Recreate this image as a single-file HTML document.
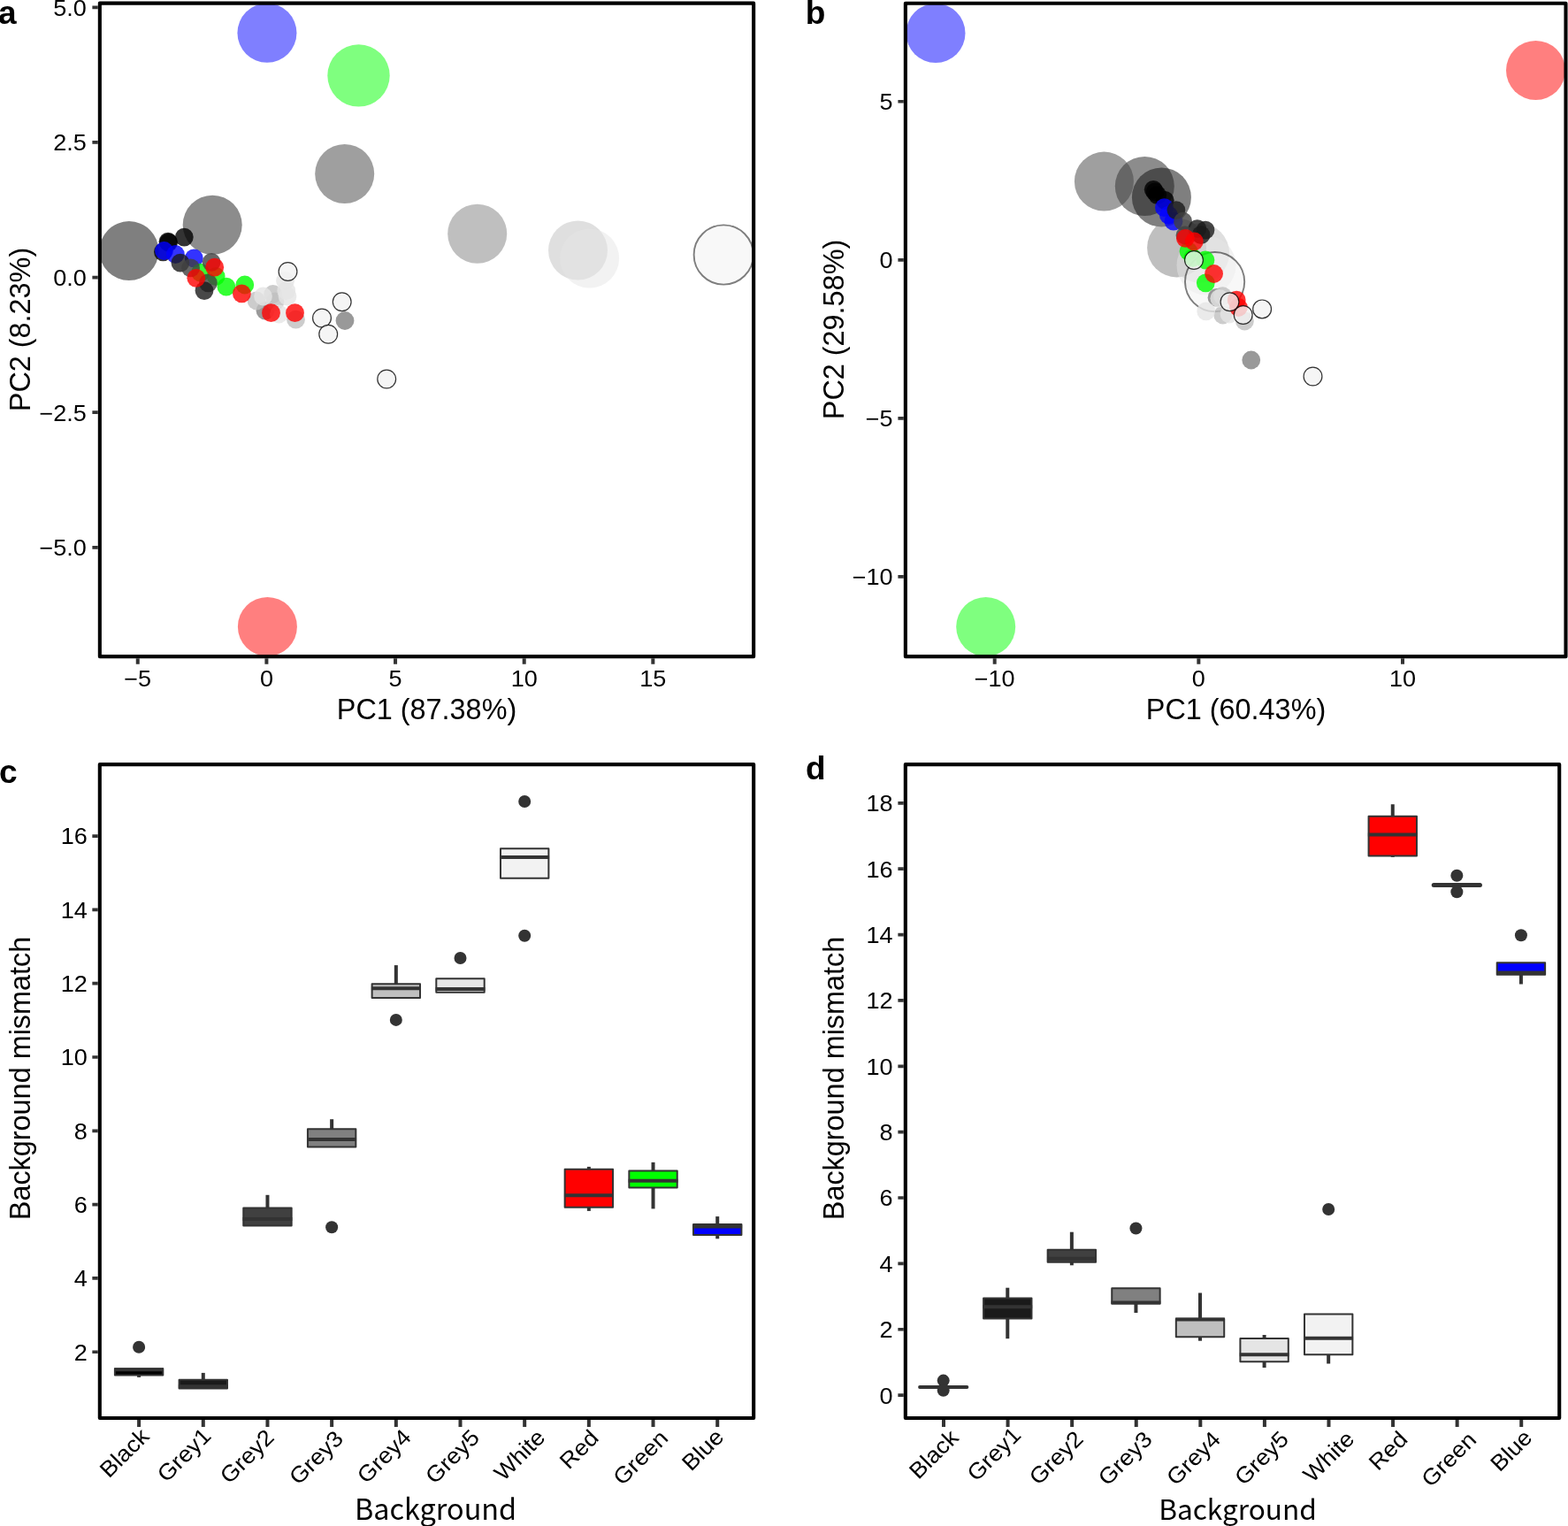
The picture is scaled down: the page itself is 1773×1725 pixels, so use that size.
<!DOCTYPE html>
<html lang="en">
<head>
<meta charset="utf-8">
<title>Figure</title>
<style>html,body{margin:0;padding:0;background:#fff}svg{display:block}text{white-space:pre}</style>
</head>
<body>
<svg width="1773" height="1725" viewBox="0 0 1773 1725" font-family='"Liberation Sans", Arial, Helvetica, sans-serif'>
<rect width="1773" height="1725" fill="#fff"/>
<circle cx="145.9" cy="283.6" r="33.5" fill="#000000" fill-opacity="0.5"/>
<circle cx="240.2" cy="254.2" r="33.5" fill="#1a1a1a" fill-opacity="0.5"/>
<circle cx="389.7" cy="196.5" r="33.5" fill="#404040" fill-opacity="0.5"/>
<circle cx="539.7" cy="264.2" r="33.5" fill="#808080" fill-opacity="0.5"/>
<circle cx="653.5" cy="283.0" r="33.5" fill="#bfbfbf" fill-opacity="0.5"/>
<circle cx="666.6" cy="292.0" r="33.5" fill="#e5e5e5" fill-opacity="0.5"/>
<circle cx="818.2" cy="288.0" r="33.6" fill="#f2f2f2" fill-opacity="0.5" stroke="#000" stroke-opacity="0.5" stroke-width="1.9"/>
<circle cx="302.4" cy="708.4" r="33.5" fill="#ff0000" fill-opacity="0.5"/>
<circle cx="405.5" cy="85.4" r="35.2" fill="#00ff00" fill-opacity="0.5"/>
<circle cx="301.95" cy="37.3" r="33.5" fill="#0000ff" fill-opacity="0.5"/>
<circle cx="190.0" cy="273.2" r="10.4" fill="#000000" fill-opacity="0.8"/>
<circle cx="190.6" cy="274.2" r="10.4" fill="#000000" fill-opacity="0.8"/>
<circle cx="208.3" cy="268.1" r="10.4" fill="#000000" fill-opacity="0.8"/>
<circle cx="184.4" cy="284.8" r="10.4" fill="#000000" fill-opacity="0.8"/>
<circle cx="185.5" cy="283.5" r="10.4" fill="#0000ff" fill-opacity="0.8"/>
<circle cx="198.4" cy="287.5" r="10.4" fill="#0000ff" fill-opacity="0.8"/>
<circle cx="219.3" cy="291.9" r="10.4" fill="#0000ff" fill-opacity="0.8"/>
<circle cx="226.6" cy="308.1" r="10.4" fill="#00ff00" fill-opacity="0.8"/>
<circle cx="244.2" cy="312.5" r="10.4" fill="#00ff00" fill-opacity="0.8"/>
<circle cx="255.9" cy="324.2" r="10.4" fill="#00ff00" fill-opacity="0.8"/>
<circle cx="276.8" cy="322.0" r="10.4" fill="#00ff00" fill-opacity="0.8"/>
<circle cx="203.9" cy="297.1" r="10.4" fill="#1a1a1a" fill-opacity="0.8"/>
<circle cx="215.6" cy="302.9" r="10.4" fill="#404040" fill-opacity="0.8"/>
<circle cx="239.1" cy="296.3" r="10.4" fill="#404040" fill-opacity="0.8"/>
<circle cx="235.4" cy="319.8" r="10.4" fill="#404040" fill-opacity="0.8"/>
<circle cx="231.0" cy="328.6" r="10.4" fill="#1a1a1a" fill-opacity="0.8"/>
<circle cx="300.0" cy="351.2" r="10.4" fill="#808080" fill-opacity="0.8"/>
<circle cx="390.0" cy="362.5" r="10.4" fill="#808080" fill-opacity="0.8"/>
<circle cx="290.0" cy="340.0" r="10.4" fill="#bfbfbf" fill-opacity="0.8"/>
<circle cx="308.7" cy="332.5" r="10.4" fill="#bfbfbf" fill-opacity="0.8"/>
<circle cx="334.5" cy="361.2" r="10.4" fill="#bfbfbf" fill-opacity="0.8"/>
<circle cx="311.0" cy="341.0" r="10.4" fill="#bfbfbf" fill-opacity="0.8"/>
<circle cx="297.5" cy="335.0" r="10.4" fill="#e5e5e5" fill-opacity="0.8"/>
<circle cx="322.5" cy="317.5" r="10.4" fill="#e5e5e5" fill-opacity="0.8"/>
<circle cx="323.7" cy="328.7" r="10.4" fill="#e5e5e5" fill-opacity="0.8"/>
<circle cx="325.0" cy="335.0" r="10.4" fill="#e5e5e5" fill-opacity="0.8"/>
<circle cx="315.5" cy="355.0" r="10.4" fill="#e5e5e5" fill-opacity="0.8"/>
<circle cx="242.7" cy="302.2" r="10.4" fill="#ff0000" fill-opacity="0.8"/>
<circle cx="221.8" cy="314.3" r="10.4" fill="#ff0000" fill-opacity="0.8"/>
<circle cx="273.4" cy="331.9" r="10.4" fill="#ff0000" fill-opacity="0.8"/>
<circle cx="306.5" cy="353.7" r="10.4" fill="#ff0000" fill-opacity="0.8"/>
<circle cx="333.5" cy="353.7" r="10.4" fill="#ff0000" fill-opacity="0.8"/>
<circle cx="325.5" cy="307.0" r="10.4" fill="#f2f2f2" fill-opacity="0.8" stroke="#000" stroke-opacity="0.8" stroke-width="1.2"/>
<circle cx="386.7" cy="341.2" r="10.4" fill="#f2f2f2" fill-opacity="0.8" stroke="#000" stroke-opacity="0.8" stroke-width="1.2"/>
<circle cx="364.0" cy="359.5" r="10.4" fill="#f2f2f2" fill-opacity="0.8" stroke="#000" stroke-opacity="0.8" stroke-width="1.2"/>
<circle cx="371.2" cy="377.7" r="10.4" fill="#f2f2f2" fill-opacity="0.8" stroke="#000" stroke-opacity="0.8" stroke-width="1.2"/>
<circle cx="437.2" cy="428.5" r="10.4" fill="#f2f2f2" fill-opacity="0.8" stroke="#000" stroke-opacity="0.8" stroke-width="1.2"/>
<rect x="112.84" y="3.65" width="739.31" height="738.52" fill="none" stroke="#000" stroke-width="4.1" stroke-linejoin="round"/>
<path d="M104.39 8.30H110.79M104.39 160.94H110.79M104.39 313.58H110.79M104.39 466.22H110.79M104.39 618.86H110.79" stroke="#333" stroke-width="3.7" fill="none"/>
<text transform="translate(97.90 17.70) scale(1.065 1)" font-size="25.4" text-anchor="end">5.0</text>
<text transform="translate(97.90 170.34) scale(1.065 1)" font-size="25.4" text-anchor="end">2.5</text>
<text transform="translate(97.90 322.98) scale(1.065 1)" font-size="25.4" text-anchor="end">0.0</text>
<text transform="translate(97.90 475.62) scale(1.065 1)" font-size="25.4" text-anchor="end">−2.5</text>
<text transform="translate(97.90 628.26) scale(1.065 1)" font-size="25.4" text-anchor="end">−5.0</text>
<path d="M155.75 744.22V750.72M301.40 744.22V750.72M447.05 744.22V750.72M592.70 744.22V750.72M738.35 744.22V750.72" stroke="#333" stroke-width="4.0" fill="none"/>
<text transform="translate(155.75 775.90) scale(1.065 1)" font-size="25.4" text-anchor="middle">−5</text>
<text transform="translate(301.40 775.90) scale(1.065 1)" font-size="25.4" text-anchor="middle">0</text>
<text transform="translate(447.05 775.90) scale(1.065 1)" font-size="25.4" text-anchor="middle">5</text>
<text transform="translate(592.70 775.90) scale(1.065 1)" font-size="25.4" text-anchor="middle">10</text>
<text transform="translate(738.35 775.90) scale(1.065 1)" font-size="25.4" text-anchor="middle">15</text>
<text transform="translate(482.50 813.20)" font-size="32.4" text-anchor="middle">PC1 (87.38%)</text>
<text transform="translate(34.00 372.50) rotate(-90)" font-size="32.4" text-anchor="middle">PC2 (8.23%)</text>
<text transform="translate(-2.00 26.90)" font-size="37" text-anchor="start" font-weight="bold">a</text>
<circle cx="1313.4" cy="223.0" r="33.5" fill="#000000" fill-opacity="0.5"/>
<circle cx="1294.3" cy="210.5" r="33.5" fill="#1a1a1a" fill-opacity="0.5"/>
<circle cx="1248.4" cy="205.1" r="33.5" fill="#404040" fill-opacity="0.5"/>
<circle cx="1330.6" cy="279.9" r="33.5" fill="#808080" fill-opacity="0.5"/>
<circle cx="1356.6" cy="286.0" r="33.5" fill="#bfbfbf" fill-opacity="0.5"/>
<circle cx="1364.0" cy="300.0" r="33.5" fill="#e5e5e5" fill-opacity="0.5"/>
<circle cx="1373.6" cy="318.6" r="33.6" fill="#f2f2f2" fill-opacity="0.5" stroke="#000" stroke-opacity="0.5" stroke-width="1.9"/>
<circle cx="1736.5" cy="79.5" r="33.5" fill="#ff0000" fill-opacity="0.5"/>
<circle cx="1114.7" cy="708.5" r="33.5" fill="#00ff00" fill-opacity="0.5"/>
<circle cx="1058.0" cy="37.5" r="33.5" fill="#0000ff" fill-opacity="0.5"/>
<circle cx="1304.2" cy="214.3" r="10.4" fill="#000000" fill-opacity="0.8"/>
<circle cx="1308.7" cy="220.6" r="10.4" fill="#000000" fill-opacity="0.8"/>
<circle cx="1317.2" cy="226.3" r="10.4" fill="#000000" fill-opacity="0.8"/>
<circle cx="1306.0" cy="217.0" r="10.4" fill="#000000" fill-opacity="0.8"/>
<circle cx="1316.5" cy="234.7" r="10.4" fill="#0000ff" fill-opacity="0.8"/>
<circle cx="1321.4" cy="243.2" r="10.4" fill="#0000ff" fill-opacity="0.8"/>
<circle cx="1327.0" cy="250.2" r="10.4" fill="#0000ff" fill-opacity="0.8"/>
<circle cx="1344.0" cy="284.1" r="10.4" fill="#00ff00" fill-opacity="0.8"/>
<circle cx="1348.8" cy="291.5" r="10.4" fill="#00ff00" fill-opacity="0.8"/>
<circle cx="1363.0" cy="294.0" r="10.4" fill="#00ff00" fill-opacity="0.8"/>
<circle cx="1363.3" cy="319.8" r="10.4" fill="#00ff00" fill-opacity="0.8"/>
<circle cx="1329.9" cy="237.6" r="10.4" fill="#1a1a1a" fill-opacity="0.8"/>
<circle cx="1337.6" cy="250.2" r="10.4" fill="#404040" fill-opacity="0.8"/>
<circle cx="1353.8" cy="258.7" r="10.4" fill="#1a1a1a" fill-opacity="0.8"/>
<circle cx="1363.0" cy="260.1" r="10.4" fill="#1a1a1a" fill-opacity="0.8"/>
<circle cx="1358.0" cy="265.7" r="10.4" fill="#1a1a1a" fill-opacity="0.8"/>
<circle cx="1340.0" cy="266.0" r="10.4" fill="#404040" fill-opacity="0.8"/>
<circle cx="1414.75" cy="407.0" r="10.4" fill="#808080" fill-opacity="0.8"/>
<circle cx="1376.0" cy="336.4" r="10.4" fill="#808080" fill-opacity="0.8"/>
<circle cx="1382.4" cy="334.6" r="10.4" fill="#bfbfbf" fill-opacity="0.8"/>
<circle cx="1382.7" cy="356.0" r="10.4" fill="#bfbfbf" fill-opacity="0.8"/>
<circle cx="1407.4" cy="363.0" r="10.4" fill="#bfbfbf" fill-opacity="0.8"/>
<circle cx="1363.7" cy="351.8" r="10.4" fill="#e5e5e5" fill-opacity="0.8"/>
<circle cx="1378.8" cy="337.3" r="10.4" fill="#e5e5e5" fill-opacity="0.8"/>
<circle cx="1390.0" cy="355.0" r="10.4" fill="#e5e5e5" fill-opacity="0.8"/>
<circle cx="1340.4" cy="269.3" r="10.4" fill="#ff0000" fill-opacity="0.8"/>
<circle cx="1350.3" cy="272.8" r="10.4" fill="#ff0000" fill-opacity="0.8"/>
<circle cx="1372.6" cy="309.5" r="10.4" fill="#ff0000" fill-opacity="0.8"/>
<circle cx="1398.2" cy="339.1" r="10.4" fill="#ff0000" fill-opacity="0.8"/>
<circle cx="1400.4" cy="347.5" r="10.4" fill="#ff0000" fill-opacity="0.8"/>
<circle cx="1350.0" cy="294.0" r="10.4" fill="#f2f2f2" fill-opacity="0.8" stroke="#000" stroke-opacity="0.8" stroke-width="1.2"/>
<circle cx="1390.5" cy="341.2" r="10.4" fill="#f2f2f2" fill-opacity="0.8" stroke="#000" stroke-opacity="0.8" stroke-width="1.2"/>
<circle cx="1405.7" cy="356.0" r="10.4" fill="#f2f2f2" fill-opacity="0.8" stroke="#000" stroke-opacity="0.8" stroke-width="1.2"/>
<circle cx="1427.1" cy="349.4" r="10.4" fill="#f2f2f2" fill-opacity="0.8" stroke="#000" stroke-opacity="0.8" stroke-width="1.2"/>
<circle cx="1484.5" cy="425.5" r="10.4" fill="#f2f2f2" fill-opacity="0.8" stroke="#000" stroke-opacity="0.8" stroke-width="1.2"/>
<rect x="1023.86" y="3.69" width="746.64" height="738.48" fill="none" stroke="#000" stroke-width="4.1" stroke-linejoin="round"/>
<path d="M1015.41 114.75H1021.81M1015.41 293.82H1021.81M1015.41 472.89H1021.81M1015.41 651.96H1021.81" stroke="#333" stroke-width="3.7" fill="none"/>
<text transform="translate(1009.60 124.15) scale(1.065 1)" font-size="25.4" text-anchor="end">5</text>
<text transform="translate(1009.60 303.22) scale(1.065 1)" font-size="25.4" text-anchor="end">0</text>
<text transform="translate(1009.60 482.29) scale(1.065 1)" font-size="25.4" text-anchor="end">−5</text>
<text transform="translate(1009.60 661.36) scale(1.065 1)" font-size="25.4" text-anchor="end">−10</text>
<path d="M1124.70 744.22V750.72M1355.35 744.22V750.72M1586.00 744.22V750.72" stroke="#333" stroke-width="4.0" fill="none"/>
<text transform="translate(1124.70 775.90) scale(1.065 1)" font-size="25.4" text-anchor="middle">−10</text>
<text transform="translate(1355.35 775.90) scale(1.065 1)" font-size="25.4" text-anchor="middle">0</text>
<text transform="translate(1586.00 775.90) scale(1.065 1)" font-size="25.4" text-anchor="middle">10</text>
<text transform="translate(1397.50 813.20)" font-size="32.4" text-anchor="middle">PC1 (60.43%)</text>
<text transform="translate(954.00 372.50) rotate(-90)" font-size="32.4" text-anchor="middle">PC2 (29.58%)</text>
<text transform="translate(910.70 27.00)" font-size="37" text-anchor="start" font-weight="bold">b</text>
<path d="M157.10 1554.50V1556.90" stroke="#333" stroke-width="4.0" fill="none"/>
<rect x="129.90" y="1547.30" width="54.40" height="7.20" fill="#000000" stroke="#333" stroke-width="2.0" stroke-linejoin="round"/>
<path d="M129.20 1548.30H185.00" stroke="#333" stroke-width="4.0" fill="none"/>
<circle cx="157.10" cy="1522.80" r="7.0" fill="#333"/>
<path d="M229.78 1551.90V1559.70" stroke="#333" stroke-width="4.0" fill="none"/>
<rect x="202.58" y="1559.70" width="54.40" height="9.70" fill="#1a1a1a" stroke="#333" stroke-width="2.0" stroke-linejoin="round"/>
<path d="M201.88 1567.20H257.68" stroke="#333" stroke-width="4.0" fill="none"/>
<path d="M302.46 1350.80V1365.40" stroke="#333" stroke-width="4.0" fill="none"/>
<rect x="275.26" y="1365.40" width="54.40" height="20.10" fill="#404040" stroke="#333" stroke-width="2.0" stroke-linejoin="round"/>
<path d="M274.56 1378.00H330.36" stroke="#333" stroke-width="4.0" fill="none"/>
<path d="M375.14 1265.20V1276.20" stroke="#333" stroke-width="4.0" fill="none"/>
<rect x="347.94" y="1276.20" width="54.40" height="20.40" fill="#808080" stroke="#333" stroke-width="2.0" stroke-linejoin="round"/>
<path d="M347.24 1288.00H403.04" stroke="#333" stroke-width="4.0" fill="none"/>
<circle cx="375.14" cy="1387.20" r="7.0" fill="#333"/>
<path d="M447.82 1091.10V1112.20" stroke="#333" stroke-width="4.0" fill="none"/>
<rect x="420.62" y="1112.20" width="54.40" height="15.70" fill="#bfbfbf" stroke="#333" stroke-width="2.0" stroke-linejoin="round"/>
<path d="M419.92 1117.30H475.72" stroke="#333" stroke-width="4.0" fill="none"/>
<circle cx="447.82" cy="1152.90" r="7.0" fill="#333"/>
<rect x="493.30" y="1106.30" width="54.40" height="15.40" fill="#e5e5e5" stroke="#333" stroke-width="2.0" stroke-linejoin="round"/>
<path d="M492.60 1117.90H548.40" stroke="#333" stroke-width="4.0" fill="none"/>
<circle cx="520.50" cy="1083.00" r="7.0" fill="#333"/>
<rect x="565.98" y="959.30" width="54.40" height="33.40" fill="#f2f2f2" stroke="#333" stroke-width="2.0" stroke-linejoin="round"/>
<path d="M565.28 969.00H621.08" stroke="#333" stroke-width="4.0" fill="none"/>
<circle cx="593.18" cy="906.00" r="7.0" fill="#333"/>
<circle cx="593.18" cy="1057.70" r="7.0" fill="#333"/>
<path d="M665.86 1318.90V1321.80" stroke="#333" stroke-width="4.0" fill="none"/>
<path d="M665.86 1364.80V1368.90" stroke="#333" stroke-width="4.0" fill="none"/>
<rect x="638.66" y="1321.80" width="54.40" height="43.00" fill="#ff0000" stroke="#333" stroke-width="2.0" stroke-linejoin="round"/>
<path d="M637.96 1351.20H693.76" stroke="#333" stroke-width="4.0" fill="none"/>
<path d="M738.54 1313.90V1323.60" stroke="#333" stroke-width="4.0" fill="none"/>
<path d="M738.54 1342.40V1366.40" stroke="#333" stroke-width="4.0" fill="none"/>
<rect x="711.34" y="1323.60" width="54.40" height="18.80" fill="#00ff00" stroke="#333" stroke-width="2.0" stroke-linejoin="round"/>
<path d="M710.64 1334.70H766.44" stroke="#333" stroke-width="4.0" fill="none"/>
<path d="M811.22 1375.10V1383.90" stroke="#333" stroke-width="4.0" fill="none"/>
<path d="M811.22 1396.00V1400.30" stroke="#333" stroke-width="4.0" fill="none"/>
<rect x="784.02" y="1383.90" width="54.40" height="12.10" fill="#0000ff" stroke="#333" stroke-width="2.0" stroke-linejoin="round"/>
<path d="M783.32 1386.40H839.12" stroke="#333" stroke-width="4.0" fill="none"/>
<rect x="112.8" y="864.1" width="739.38" height="738.95" fill="none" stroke="#000" stroke-width="4.1" stroke-linejoin="round"/>
<path d="M104.35 945.06H110.75M104.35 1028.37H110.75M104.35 1111.68H110.75M104.35 1194.99H110.75M104.35 1278.30H110.75M104.35 1361.61H110.75M104.35 1444.92H110.75M104.35 1528.23H110.75" stroke="#333" stroke-width="3.7" fill="none"/>
<text transform="translate(98.80 954.46) scale(1.065 1)" font-size="25.4" text-anchor="end">16</text>
<text transform="translate(98.80 1037.77) scale(1.065 1)" font-size="25.4" text-anchor="end">14</text>
<text transform="translate(98.80 1121.08) scale(1.065 1)" font-size="25.4" text-anchor="end">12</text>
<text transform="translate(98.80 1204.39) scale(1.065 1)" font-size="25.4" text-anchor="end">10</text>
<text transform="translate(98.80 1287.70) scale(1.065 1)" font-size="25.4" text-anchor="end">8</text>
<text transform="translate(98.80 1371.01) scale(1.065 1)" font-size="25.4" text-anchor="end">6</text>
<text transform="translate(98.80 1454.32) scale(1.065 1)" font-size="25.4" text-anchor="end">4</text>
<text transform="translate(98.80 1537.63) scale(1.065 1)" font-size="25.4" text-anchor="end">2</text>
<path d="M157.10 1605.10V1613.00M229.78 1605.10V1613.00M302.46 1605.10V1613.00M375.14 1605.10V1613.00M447.82 1605.10V1613.00M520.50 1605.10V1613.00M593.18 1605.10V1613.00M665.86 1605.10V1613.00M738.54 1605.10V1613.00M811.22 1605.10V1613.00" stroke="#333" stroke-width="4.0" fill="none"/>
<text transform="translate(170.00 1625.10) rotate(-45) scale(1.065 1)" font-size="25.4" text-anchor="end">Black</text>
<text transform="translate(240.20 1624.60) rotate(-45) scale(1.065 1)" font-size="25.4" text-anchor="end">Grey1</text>
<text transform="translate(311.40 1626.40) rotate(-45) scale(1.065 1)" font-size="25.4" text-anchor="end">Grey2</text>
<text transform="translate(389.60 1627.80) rotate(-45) scale(1.065 1)" font-size="25.4" text-anchor="end">Grey3</text>
<text transform="translate(466.40 1626.10) rotate(-45) scale(1.065 1)" font-size="25.4" text-anchor="end">Grey4</text>
<text transform="translate(543.60 1626.60) rotate(-45) scale(1.065 1)" font-size="25.4" text-anchor="end">Grey5</text>
<text transform="translate(618.00 1626.40) rotate(-45) scale(1.065 1)" font-size="25.4" text-anchor="end">White</text>
<text transform="translate(678.40 1626.90) rotate(-45) scale(1.065 1)" font-size="25.4" text-anchor="end">Red</text>
<text transform="translate(756.80 1627.20) rotate(-45) scale(1.065 1)" font-size="25.4" text-anchor="end">Green</text>
<text transform="translate(819.80 1625.80) rotate(-45) scale(1.065 1)" font-size="25.4" text-anchor="end">Blue</text>
<text transform="translate(401.00 1717.70)" font-size="32.4" text-anchor="start" font-family='"Noto Sans CJK SC", "Noto Sans CJK JP", "DejaVu Sans", sans-serif'>Background</text>
<text transform="translate(34.00 1219.00) rotate(-90)" font-size="32.4" text-anchor="middle">Background mismatch</text>
<text transform="translate(-1.00 884.70)" font-size="37" text-anchor="start" font-weight="bold">c</text>
<path d="M1040.00 1568.00H1093.40" stroke="#333" stroke-width="3.8" stroke-linecap="round" fill="none"/>
<circle cx="1066.70" cy="1560.60" r="7.0" fill="#333"/>
<circle cx="1066.70" cy="1571.80" r="7.0" fill="#333"/>
<path d="M1139.28 1455.70V1467.60" stroke="#333" stroke-width="4.0" fill="none"/>
<path d="M1139.28 1490.40V1513.20" stroke="#333" stroke-width="4.0" fill="none"/>
<rect x="1112.08" y="1467.60" width="54.40" height="22.80" fill="#1a1a1a" stroke="#333" stroke-width="2.0" stroke-linejoin="round"/>
<path d="M1111.38 1477.20H1167.18" stroke="#333" stroke-width="4.0" fill="none"/>
<path d="M1211.86 1392.70V1412.80" stroke="#333" stroke-width="4.0" fill="none"/>
<path d="M1211.86 1426.70V1430.30" stroke="#333" stroke-width="4.0" fill="none"/>
<rect x="1184.66" y="1412.80" width="54.40" height="13.90" fill="#404040" stroke="#333" stroke-width="2.0" stroke-linejoin="round"/>
<path d="M1183.96 1422.80H1239.76" stroke="#333" stroke-width="4.0" fill="none"/>
<path d="M1284.44 1473.40V1484.00" stroke="#333" stroke-width="4.0" fill="none"/>
<rect x="1257.24" y="1456.30" width="54.40" height="17.10" fill="#808080" stroke="#333" stroke-width="2.0" stroke-linejoin="round"/>
<path d="M1256.54 1472.40H1312.34" stroke="#333" stroke-width="4.0" fill="none"/>
<circle cx="1284.44" cy="1388.50" r="7.0" fill="#333"/>
<path d="M1357.02 1461.50V1490.80" stroke="#333" stroke-width="4.0" fill="none"/>
<path d="M1357.02 1511.20V1515.70" stroke="#333" stroke-width="4.0" fill="none"/>
<rect x="1329.82" y="1490.80" width="54.40" height="20.40" fill="#bfbfbf" stroke="#333" stroke-width="2.0" stroke-linejoin="round"/>
<path d="M1329.12 1491.60H1384.92" stroke="#333" stroke-width="4.0" fill="none"/>
<path d="M1429.60 1509.00V1513.10" stroke="#333" stroke-width="4.0" fill="none"/>
<path d="M1429.60 1539.30V1546.00" stroke="#333" stroke-width="4.0" fill="none"/>
<rect x="1402.40" y="1513.10" width="54.40" height="26.20" fill="#e5e5e5" stroke="#333" stroke-width="2.0" stroke-linejoin="round"/>
<path d="M1401.70 1531.20H1457.50" stroke="#333" stroke-width="4.0" fill="none"/>
<path d="M1502.18 1531.20V1541.50" stroke="#333" stroke-width="4.0" fill="none"/>
<rect x="1474.98" y="1485.60" width="54.40" height="45.60" fill="#f2f2f2" stroke="#333" stroke-width="2.0" stroke-linejoin="round"/>
<path d="M1474.28 1512.80H1530.08" stroke="#333" stroke-width="4.0" fill="none"/>
<circle cx="1502.18" cy="1367.00" r="7.0" fill="#333"/>
<path d="M1574.76 909.20V922.70" stroke="#333" stroke-width="4.0" fill="none"/>
<path d="M1574.76 967.40V968.90" stroke="#333" stroke-width="4.0" fill="none"/>
<rect x="1547.56" y="922.70" width="54.40" height="44.70" fill="#ff0000" stroke="#333" stroke-width="2.0" stroke-linejoin="round"/>
<path d="M1546.86 943.50H1602.66" stroke="#333" stroke-width="4.0" fill="none"/>
<path d="M1621.24 1000.40H1673.44" stroke="#333" stroke-width="5.0" stroke-linecap="round" fill="none"/>
<circle cx="1647.34" cy="989.70" r="7.0" fill="#333"/>
<circle cx="1647.34" cy="1008.30" r="7.0" fill="#333"/>
<path d="M1719.92 1101.70V1112.50" stroke="#333" stroke-width="4.0" fill="none"/>
<rect x="1692.72" y="1088.30" width="54.40" height="13.40" fill="#0000ff" stroke="#333" stroke-width="2.0" stroke-linejoin="round"/>
<path d="M1692.02 1099.60H1747.82" stroke="#333" stroke-width="4.0" fill="none"/>
<circle cx="1719.92" cy="1057.20" r="7.0" fill="#333"/>
<rect x="1023.83" y="864.1" width="739.37" height="738.85" fill="none" stroke="#000" stroke-width="4.1" stroke-linejoin="round"/>
<path d="M1015.38 907.80H1021.78M1015.38 982.17H1021.78M1015.38 1056.54H1021.78M1015.38 1130.91H1021.78M1015.38 1205.28H1021.78M1015.38 1279.65H1021.78M1015.38 1354.02H1021.78M1015.38 1428.39H1021.78M1015.38 1502.76H1021.78M1015.38 1577.13H1021.78" stroke="#333" stroke-width="3.7" fill="none"/>
<text transform="translate(1009.60 917.20) scale(1.065 1)" font-size="25.4" text-anchor="end">18</text>
<text transform="translate(1009.60 991.57) scale(1.065 1)" font-size="25.4" text-anchor="end">16</text>
<text transform="translate(1009.60 1065.94) scale(1.065 1)" font-size="25.4" text-anchor="end">14</text>
<text transform="translate(1009.60 1140.31) scale(1.065 1)" font-size="25.4" text-anchor="end">12</text>
<text transform="translate(1009.60 1214.68) scale(1.065 1)" font-size="25.4" text-anchor="end">10</text>
<text transform="translate(1009.60 1289.05) scale(1.065 1)" font-size="25.4" text-anchor="end">8</text>
<text transform="translate(1009.60 1363.42) scale(1.065 1)" font-size="25.4" text-anchor="end">6</text>
<text transform="translate(1009.60 1437.79) scale(1.065 1)" font-size="25.4" text-anchor="end">4</text>
<text transform="translate(1009.60 1512.16) scale(1.065 1)" font-size="25.4" text-anchor="end">2</text>
<text transform="translate(1009.60 1586.53) scale(1.065 1)" font-size="25.4" text-anchor="end">0</text>
<path d="M1067.00 1605.00V1612.90M1139.58 1605.00V1612.90M1212.16 1605.00V1612.90M1284.74 1605.00V1612.90M1357.32 1605.00V1612.90M1429.90 1605.00V1612.90M1502.48 1605.00V1612.90M1575.06 1605.00V1612.90M1647.64 1605.00V1612.90M1720.22 1605.00V1612.90" stroke="#333" stroke-width="4.0" fill="none"/>
<text transform="translate(1085.20 1626.60) rotate(-45) scale(1.065 1)" font-size="25.4" text-anchor="end">Black</text>
<text transform="translate(1156.00 1623.60) rotate(-45) scale(1.065 1)" font-size="25.4" text-anchor="end">Grey1</text>
<text transform="translate(1226.40 1628.00) rotate(-45) scale(1.065 1)" font-size="25.4" text-anchor="end">Grey2</text>
<text transform="translate(1304.40 1628.60) rotate(-45) scale(1.065 1)" font-size="25.4" text-anchor="end">Grey3</text>
<text transform="translate(1381.60 1628.50) rotate(-45) scale(1.065 1)" font-size="25.4" text-anchor="end">Grey4</text>
<text transform="translate(1458.60 1628.30) rotate(-45) scale(1.065 1)" font-size="25.4" text-anchor="end">Grey5</text>
<text transform="translate(1532.90 1628.20) rotate(-45) scale(1.065 1)" font-size="25.4" text-anchor="end">White</text>
<text transform="translate(1593.20 1628.40) rotate(-45) scale(1.065 1)" font-size="25.4" text-anchor="end">Red</text>
<text transform="translate(1670.80 1629.00) rotate(-45) scale(1.065 1)" font-size="25.4" text-anchor="end">Green</text>
<text transform="translate(1734.00 1626.60) rotate(-45) scale(1.065 1)" font-size="25.4" text-anchor="end">Blue</text>
<text transform="translate(1310.20 1717.70)" font-size="31.6" text-anchor="start" font-family='"Noto Sans CJK SC", "Noto Sans CJK JP", "DejaVu Sans", sans-serif'>Background</text>
<text transform="translate(954.00 1219.00) rotate(-90)" font-size="32.4" text-anchor="middle">Background mismatch</text>
<text transform="translate(910.90 881.00)" font-size="37" text-anchor="start" font-weight="bold">d</text>
</svg>
</body>
</html>
